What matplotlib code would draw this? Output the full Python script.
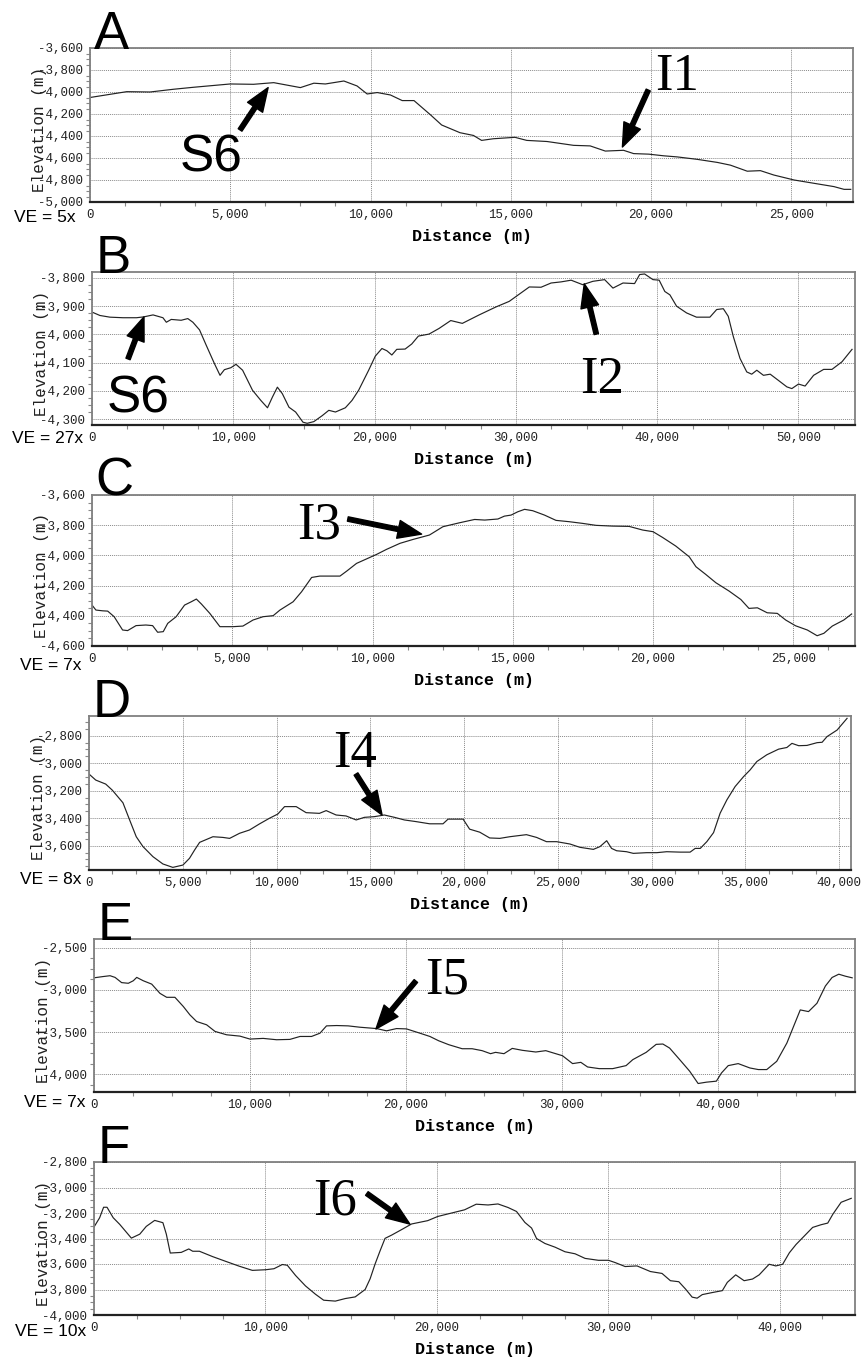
import numpy as np
import matplotlib.pyplot as plt
from matplotlib.ticker import FuncFormatter, MultipleLocator, AutoMinorLocator

# profile A
dist_a = [0, 1310, 2140, 2980, 3690, 5000, 5830, 6550, 7500, 7980, 8390, 9050, 9520, 9880, 10240,
          10710, 11130, 11550, 12140, 12536, 13190, 13670, 13960, 14380, 15150, 15570, 16290, 17240,
          17830, 18370, 19020, 19380, 19920, 20450, 20930, 21640, 22360, 22830, 23430, 23900, 24380,
          25100, 25810, 26520, 26880, 27120]
elev_a = [-4050, -3997, -4000, -3975, -3957, -3927, -3930, -3915, -3960, -3920, -3927, -3900, -3945,
          -4018, -4005, -4027, -4078, -4078, -4208, -4300, -4370, -4395, -4440, -4425, -4412, -4440,
          -4450, -4485, -4490, -4537, -4530, -4560, -4565, -4580, -4590, -4612, -4640, -4665, -4720,
          -4715, -4755, -4800, -4830, -4860, -4885, -4885]

# profile B
dist_b = [0, 560, 1270, 2200, 3150, 3660, 4320, 5020, 5260, 5610, 6310, 6780, 7140, 7610, 8080, 8660,
          9060, 9370, 9830, 10190, 10660, 11360, 11950, 12420, 12770, 13120, 13470, 13940, 14410,
          14930, 15230, 15700, 16290, 16760, 17230, 17930, 18400, 18870, 19580, 20050, 20520, 20870,
          21220, 21570, 22160, 22630, 23100, 23850, 24560, 25390, 26210, 27400, 28580, 29530, 30950,
          31780, 32490, 33200, 33910, 34730, 35450, 36280, 36870, 37580, 38400, 38760, 39110, 39700,
          40140, 40540, 40900, 41370, 42080, 42780, 43730, 44210, 44680, 45030, 45390, 45860, 46340,
          46690, 47050, 47520, 48000, 48580, 49180, 49530, 50000, 50470, 51070, 51780, 52370, 53080,
          53790]
elev_b = [-3921, -3933, -3939, -3941, -3941, -3938, -3931, -3941, -3957, -3947, -3950, -3944, -3957,
          -3984, -4038, -4103, -4145, -4125, -4118, -4106, -4127, -4198, -4234, -4260, -4222, -4187,
          -4210, -4258, -4275, -4311, -4315, -4309, -4288, -4269, -4275, -4260, -4234, -4198, -4127,
          -4077, -4050, -4058, -4073, -4053, -4052, -4034, -4006, -3999, -3979, -3951, -3961, -3931,
          -3903, -3883, -3832, -3833, -3818, -3814, -3808, -3824, -3812, -3806, -3836, -3818, -3820,
          -3788, -3786, -3806, -3808, -3848, -3860, -3900, -3924, -3939, -3939, -3912, -3909, -3936,
          -4008, -4085, -4133, -4141, -4127, -4145, -4141, -4163, -4186, -4192, -4176, -4183, -4145,
          -4124, -4124, -4097, -4053]

# profile C
dist_c = [0, 140, 380, 560, 790, 1090, 1270, 1570, 1920, 2160, 2340, 2540, 2700, 3000, 3300, 3540,
          3720, 3900, 4200, 4560, 5030, 5380, 5740, 6100, 6460, 6700, 7170, 7470, 7830, 8120, 8480,
          8840, 9080, 9430, 9910, 10150, 10500, 10980, 11450, 12030, 12510, 13100, 13640, 14000,
          14470, 14700, 14940, 15180, 15420, 15710, 16130, 16540, 17020, 17490, 17970, 18560, 19150,
          19630, 20000, 20340, 20810, 21290, 21530, 21880, 22240, 22710, 23130, 23420, 23720, 24070,
          24430, 24730, 25080, 25500, 25850, 26090, 26390, 26800, 27080]
elev_c = [-4329, -4362, -4367, -4369, -4406, -4494, -4498, -4465, -4461, -4465, -4509, -4505, -4450,
          -4406, -4329, -4307, -4289, -4322, -4384, -4472, -4472, -4468, -4428, -4406, -4399, -4362,
          -4307, -4241, -4146, -4137, -4137, -4137, -4104, -4053, -4013, -3993, -3960, -3920, -3894,
          -3865, -3810, -3784, -3762, -3766, -3759, -3740, -3733, -3711, -3695, -3704, -3733, -3768,
          -3777, -3788, -3801, -3806, -3808, -3832, -3843, -3881, -3938, -4009, -4075, -4126, -4181,
          -4236, -4292, -4351, -4347, -4380, -4384, -4428, -4466, -4494, -4532, -4516, -4468, -4428,
          -4388]

# profile D
dist_d = [0, 360, 890, 1240, 1810, 2170, 2520, 2880, 3410, 3940, 4470, 5010, 5360, 5630, 5900, 6610,
          7140, 7500, 8030, 8560, 9090, 9620, 10070, 10430, 11050, 11580, 12290, 12650, 13180, 13710,
          14250, 14690, 15220, 15750, 16290, 16820, 17440, 18170, 18880, 19150, 19950, 20300, 20840,
          21370, 21910, 22440, 23330, 23870, 24400, 24940, 25650, 26180, 26900, 27250, 27610, 27870,
          28140, 28670, 29030, 29740, 30280, 30810, 31530, 32060, 32330, 32600, 32950, 33310, 33660,
          34020, 34460, 34910, 35260, 35620, 36150, 36780, 37220, 37490, 37850, 38290, 38830, 39100,
          39360, 39900, 40430]
elev_d = [-3079, -3123, -3152, -3196, -3288, -3414, -3535, -3607, -3680, -3733, -3758, -3741, -3692,
          -3632, -3576, -3535, -3540, -3547, -3510, -3486, -3442, -3401, -3370, -3316, -3316, -3360,
          -3365, -3345, -3377, -3384, -3413, -3394, -3389, -3377, -3394, -3413, -3425, -3441, -3441,
          -3407, -3407, -3480, -3502, -3544, -3547, -3535, -3520, -3540, -3571, -3571, -3588, -3612,
          -3627, -3607, -3564, -3620, -3637, -3644, -3656, -3651, -3651, -3644, -3647, -3647, -3620,
          -3620, -3571, -3505, -3364, -3267, -3170, -3098, -3049, -2988, -2939, -2898, -2886, -2856,
          -2873, -2871, -2851, -2848, -2807, -2759, -2674]

# profile E
dist_e = [0, 580, 1030, 1350, 1770, 2200, 2520, 2740, 3160, 3700, 4230, 4660, 5190, 5730, 6150, 6580,
          7220, 7760, 8500, 9360, 10000, 10850, 11710, 12560, 13210, 13950, 14490, 14910, 15560,
          16300, 17050, 18120, 18760, 19400, 20040, 20900, 21540, 22100, 22750, 23610, 24250, 24890,
          25430, 25750, 26290, 26820, 27470, 28330, 28970, 29610, 30040, 30690, 31220, 31650, 32400,
          33260, 34120, 34550, 35410, 36050, 36480, 36910, 37560, 38200, 38740, 39270, 39910, 40240,
          40670, 41310, 42060, 42600, 43140, 43780, 44430, 44860, 45290, 45820, 46360, 46900, 47330,
          47760, 48190, 48620]
elev_e = [-2855, -2840, -2830, -2850, -2912, -2920, -2890, -2850, -2890, -2930, -3040, -3087, -3087,
          -3197, -3296, -3375, -3414, -3493, -3533, -3549, -3584, -3576, -3592, -3588, -3553, -3553,
          -3514, -3427, -3423, -3427, -3443, -3459, -3486, -3459, -3463, -3514, -3553, -3604, -3651,
          -3699, -3699, -3722, -3758, -3742, -3758, -3695, -3718, -3738, -3722, -3758, -3782, -3876,
          -3861, -3916, -3936, -3936, -3900, -3829, -3742, -3647, -3643, -3691, -3829, -3967, -4113,
          -4097, -4085, -3987, -3900, -3876, -3928, -3947, -3947, -3849, -3632, -3434, -3237, -3257,
          -3158, -2953, -2851, -2812, -2836, -2855]

# profile F
dist_f = [0, 330, 560, 760, 1120, 1500, 2180, 2670, 3050, 3540, 4020, 4220, 4450, 5090, 5530, 5760,
          6150, 6920, 7700, 8470, 9240, 10020, 10500, 10990, 11280, 11760, 12340, 12920, 13400, 14080,
          14660, 15240, 15820, 16110, 16400, 16690, 16980, 17370, 17950, 18530, 19470, 20060, 20840,
          21620, 22300, 22990, 23570, 24160, 24650, 25140, 25530, 25820, 26310, 26900, 27480, 28070,
          28650, 29430, 30020, 30410, 30990, 31680, 32460, 33140, 33630, 34120, 34510, 34900, 35190,
          35490, 36070, 36660, 36950, 37440, 37930, 38420, 38810, 39390, 39780, 40180, 40570, 40960,
          41930, 42420, 42810, 43110, 43590, 44180]
elev_f = [-3310, -3237, -3155, -3155, -3237, -3289, -3397, -3366, -3305, -3258, -3276, -3366, -3514,
          -3509, -3482, -3500, -3500, -3542, -3580, -3617, -3650, -3645, -3637, -3604, -3610, -3690,
          -3772, -3837, -3884, -3891, -3871, -3858, -3800, -3716, -3600, -3497, -3399, -3373, -3330,
          -3286, -3260, -3227, -3201, -3175, -3131, -3137, -3129, -3157, -3188, -3274, -3318, -3400,
          -3439, -3468, -3504, -3520, -3556, -3571, -3571, -3589, -3620, -3615, -3659, -3674, -3731,
          -3739, -3796, -3860, -3868, -3840, -3824, -3809, -3744, -3685, -3731, -3718, -3685, -3602,
          -3615, -3602, -3512, -3447, -3313, -3292, -3279, -3209, -3116, -3085]

letters = ["A", "B", "C", "D", "E", "F"]
ve_labels = ["VE = 5x", "VE = 27x", "VE = 7x", "VE = 8x", "VE = 7x", "VE = 10x"]
names = ["S6", "I1", "S6", "I2", "I3", "I4", "I5", "I6"]

W, H = 863, 1357
fig = plt.figure(figsize=(W / 100, H / 100), dpi=100)

mono = "Liberation Mono"
sans = "Liberation Sans"
serif = "Liberation Serif"


def make_ax(box, xlim, ylim, xstep, ystep, ve, ve_pos):
    l, t, r, b = box
    ax = fig.add_axes([l / W, 1 - b / H, (r - l) / W, (b - t) / H])
    ax.set_xlim(*xlim)
    ax.set_ylim(*ylim)
    ax.xaxis.set_major_locator(MultipleLocator(xstep))
    ax.yaxis.set_major_locator(MultipleLocator(ystep))
    ax.xaxis.set_minor_locator(AutoMinorLocator(4))
    ax.yaxis.set_minor_locator(AutoMinorLocator(4))
    fmt = FuncFormatter(lambda v, p: "{:,}".format(int(round(v))))
    ax.xaxis.set_major_formatter(fmt)
    ax.yaxis.set_major_formatter(fmt)
    ax.grid(True, which="major", color="#8a8a8a", linestyle=(0, (1, 1)), linewidth=0.7)
    ax.tick_params(which="major", length=0, labelsize=9, pad=5, labelcolor="#222222")
    ax.tick_params(which="minor", length=3, color="#888888", width=0.8)
    for lab in ax.get_xticklabels() + ax.get_yticklabels():
        lab.set_fontfamily(mono)
    for s in ["top", "right", "left"]:
        ax.spines[s].set_color("#808080")
        ax.spines[s].set_linewidth(1.3)
    ax.spines["bottom"].set_color("#222222")
    ax.spines["bottom"].set_linewidth(1.6)
    ax.set_xlabel("Distance (m)", fontfamily=mono, fontsize=12, fontweight="bold", labelpad=6)
    # the axis title sits over the tick labels, as in the original figure
    ax.set_ylabel("Elevation (m)", fontfamily=mono, fontsize=11.5, color="#222222")
    ax.yaxis.set_label_coords(-0.056, 0.47)
    fig.text(ve_pos[0] / W, 1 - ve_pos[1] / H, ve, fontfamily=sans, fontsize=12.5,
             ha="left", va="baseline")
    return ax


def arrow(ax, tip, tail):
    ax.annotate("", xy=tip, xytext=tail,
                arrowprops=dict(facecolor="black", edgecolor="black", width=3.2,
                                headwidth=13, headlength=17, shrink=0))


boxes = [(90, 48, 853, 202), (92, 272, 855, 425), (92, 495, 855, 646),
         (89, 716, 851, 870), (94, 939, 855, 1092), (94, 1162, 855, 1315)]
ve_pos = [(14, 222), (12, 443), (20, 670), (20, 884), (24, 1107), (15, 1336)]
line_kw = dict(color="#222222", lw=0.85)

# A
ax = make_ax(boxes[0], (0, 27200), (-5000, -3600), 5000, 200, ve_labels[0], ve_pos[0])
ax.plot(dist_a, elev_a, **line_kw)
ax.text(3210, -4727, names[0], fontfamily=sans, fontsize=37, va="baseline")
arrow(ax, (6350, -3960), (5350, -4345))
ax.text(20160, -3982, names[1], fontfamily=serif, fontsize=38, va="baseline")
arrow(ax, (18980, -4500), (19900, -3982))

# B
ax = make_ax(boxes[1], (0, 54000), (-4321, -3779), 10000, 100, ve_labels[1], ve_pos[1])
ax.plot(dist_b, elev_b, **line_kw)
ax.text(1060, -4275, names[2], fontfamily=sans, fontsize=37, va="baseline")
arrow(ax, (3680, -3938), (2550, -4087))
ax.text(34560, -4208, names[3], fontfamily=serif, fontsize=38, va="baseline")
arrow(ax, (34840, -3821), (35690, -3999))

# C
ax = make_ax(boxes[2], (0, 27200), (-4600, -3600), 5000, 200, ve_labels[2], ve_pos[2])
ax.plot(dist_c, elev_c, **line_kw)
ax.text(7300, -3885, names[4], fontfamily=serif, fontsize=38, va="baseline")
arrow(ax, (11750, -3859), (9120, -3759))

# D
ax = make_ax(boxes[3], (0, 40640), (-3777, -2657), 5000, 200, ve_labels[3], ve_pos[3])
ax.plot(dist_d, elev_d, **line_kw)
ax.text(13010, -3027, names[5], fontfamily=serif, fontsize=38, va="baseline")
arrow(ax, (15630, -3377), (14240, -3079))

# E
ax = make_ax(boxes[4], (0, 48800), (-4214, -2393), 10000, 500, ve_labels[4], ve_pos[4])
ax.plot(dist_e, elev_e, **line_kw)
ax.text(21220, -3036, names[6], fontfamily=serif, fontsize=38, va="baseline")
arrow(ax, (18080, -3464), (20640, -2893))

# F
ax = make_ax(boxes[5], (0, 44400), (-4000, -2800), 10000, 200, ve_labels[5], ve_pos[5])
ax.plot(dist_f, elev_f, **line_kw)
ax.text(12770, -3210, names[7], fontfamily=serif, fontsize=38, va="baseline")
arrow(ax, (18430, -3287), (15920, -3047))

# panel letters sit on the top edge of each frame
for a, letter in zip(fig.axes, letters):
    a.text(0.005, 0.995, letter, transform=a.transAxes, fontfamily=sans, fontsize=38,
           ha="left", va="baseline")

fig.savefig("out.png", dpi=100)
